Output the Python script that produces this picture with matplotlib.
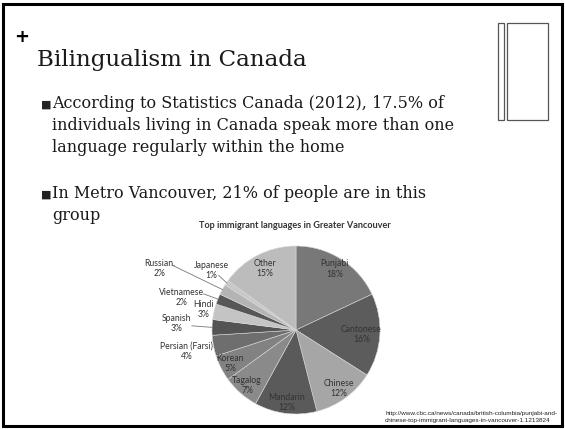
import numpy as np
import matplotlib
matplotlib.use('Agg')
import matplotlib.pyplot as plt
from matplotlib.patches import Rectangle

# Daten
languages = ['Punjabi', 'Cantonese', 'Chinese', 'Mandarin', 'Tagalog', 'Korean',
             'Persian (Farsi)', 'Spanish', 'Hindi', 'Vietnamese', 'Russian.',
             'Japanese', 'Other']
shares = [18, 16, 12, 12, 7, 5, 4, 3, 3, 2, 2, 1, 15]
grays = ['#787878', '#5c5c5c', '#a6a6a6', '#5a5a5a', '#8a8a8a', '#828282',
         '#6e6e6e', '#545454', '#c4c4c4', '#575757', '#b4b4b4', '#c8c8c8',
         '#bcbcbc']

bullets = [
    ["According to Statistics Canada (2012), 17.5% of",
     "individuals living in Canada speak more than one",
     "language regularly within the home"],
    ["In Metro Vancouver, 21% of people are in this",
     "group"],
]
title = "Bilingualism in Canada"
chart_title = "Top immigrant languages in Greater Vancouver"
source = ["http://www.cbc.ca/news/canada/british-columbia/punjabi-and-",
          "chinese-top-immigrant-languages-in-vancouver-1.1213824"]

W, H = 565, 429
fig = plt.figure(figsize=(W / 100, H / 100), dpi=100)
bg = fig.add_axes([0, 0, 1, 1])
bg.set_xlim(0, W)
bg.set_ylim(H, 0)
bg.axis('off')

# Rahmen der Folie
bg.add_patch(Rectangle((3, 4), 559, 422, fill=False, ec='black', lw=2.2))
bg.add_patch(Rectangle((498, 23), 6, 97, fill=False, ec='#555555', lw=0.9))
bg.add_patch(Rectangle((507, 23), 41, 97, fill=False, ec='#555555', lw=0.9))

serif = 'DejaVu Serif'
bg.text(22, 37, '+', fontsize=13, fontweight='bold', ha='center', va='center',
        family='DejaVu Sans')
bg.text(37, 60, title, fontsize=16.6, family=serif, color='#1a1a1a',
        ha='left', va='center')

# Aufzaehlung, zeilenweise
y_starts = [104, 194]
for lines, y0 in zip(bullets, y_starts):
    bg.text(46, y0 + 1, '■', fontsize=8, family='DejaVu Sans', color='#222222',
            ha='center', va='center')
    for i, line in enumerate(lines):
        bg.text(52, y0 + 21.8 * i, line, fontsize=11.5, family=serif,
                color='#1a1a1a', ha='left', va='center')

bg.text(295, 226, chart_title, fontsize=6.6, fontweight='bold',
        family='Lato', color='#333333', ha='center', va='center')
for i, line in enumerate(source):
    bg.text(385, 413 + 7.8 * i, line, fontsize=4.55, family='Liberation Sans',
            color='#222222', ha='left', va='center')

# Kreisdiagramm
cx, cy, R = 296, 330, 84
pax = fig.add_axes([(cx - R) / W, (H - cy - R) / H, 2 * R / W, 2 * R / H])
wedges, _ = pax.pie(shares, colors=grays, startangle=90, counterclock=False,
                    wedgeprops=dict(ec='#d8d8d8', lw=0.4))
pax.set_xlim(-1, 1)
pax.set_ylim(-1, 1)
pax.axis('off')

# Beschriftungen: innen radial, aussen an fester Stelle mit Fuehrungslinie
inner_r = {'Punjabi': 0.86, 'Cantonese': 0.78, 'Chinese': 0.86,
           'Mandarin': 0.87, 'Tagalog': 0.88, 'Korean': 0.88, 'Other': 0.82}
outer_pos = {'Persian (Farsi)': (-1.30, -0.25), 'Spanish': (-1.42, 0.08),
             'Hindi': (-1.10, 0.24), 'Vietnamese': (-1.36, 0.39),
             'Russian.': (-1.62, 0.73), 'Japanese': (-1.01, 0.71)}
leaders = {'Spanish': (-1.24, 0.05), 'Vietnamese': (-1.10, 0.43),
           'Russian.': (-1.47, 0.77), 'Japanese': (-0.92, 0.65)}

lab_kw = dict(fontsize=6.2, family='Lato', color='#333333',
              ha='center', va='center', clip_on=False)
dy = 0.06  # halber Zeilenabstand in Kreiseinheiten
for w, name, val in zip(wedges, languages, shares):
    ang = np.deg2rad((w.theta1 + w.theta2) / 2)
    if name in inner_r:
        r = inner_r[name]
        x, y = r * np.cos(ang), r * np.sin(ang)
    else:
        x, y = outer_pos[name]
        if name in leaders:
            sx, sy = leaders[name]
            pax.plot([sx, np.cos(ang)], [sy, np.sin(ang)], color='#777777',
                     lw=0.6, clip_on=False)
    pax.text(x, y + dy, name, **lab_kw)
    pax.text(x, y - dy, f"{val}%", **lab_kw)

fig.savefig('out.png', dpi=100)
